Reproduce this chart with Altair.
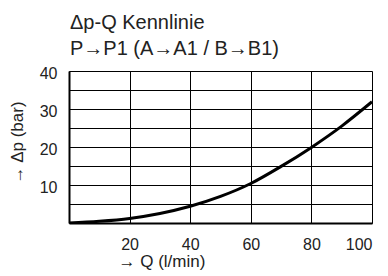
import altair as alt
import pandas as pd

q_values = [0, 10, 20, 30, 40, 50, 60, 70, 80, 90, 100]
dp_values = [0, 0.45, 1.2, 2.5, 4.4, 7.0, 10.4, 14.9, 19.9, 25.5, 31.9]

x_ticks = [0, 20, 40, 60, 80, 100]
y_ticks = [0, 5, 10, 15, 20, 25, 30, 35, 40]

title_text = "Δp-Q Kennlinie"
subtitle_text = "P→P1 (A→A1 / B→B1)"
x_title = "→ Q (l/min)"
y_title = "→ Δp (bar)"

df = pd.DataFrame({"Q": q_values, "dp": dp_values})

FONT = "Liberation Sans"
TXT = "#222222"

chart = (
    alt.Chart(df)
    .mark_line(color="black", strokeWidth=3, interpolate="monotone", clip=True)
    .encode(
        x=alt.X(
            "Q:Q",
            scale=alt.Scale(domain=[0, 100], nice=False),
            axis=alt.Axis(
                values=x_ticks,
                labelExpr="datum.value == 0 ? '' : datum.label",
                title=x_title,
                titleAlign="left",
                titleX=49,
                titleY=43,
                titleBaseline="alphabetic",
                titleFontWeight="normal",
                titleFontSize=17,
                titleFont=FONT,
                titleColor=TXT,
                labelFont=FONT,
                labelFontSize=16,
                labelColor=TXT,
                labelPadding=13,
                ticks=False,
                grid=True,
                gridColor="black",
                gridWidth=1,
                gridOpacity=1,
                domainColor="black",
                domainWidth=2,
            ),
        ),
        y=alt.Y(
            "dp:Q",
            scale=alt.Scale(domain=[0, 40], nice=False),
            axis=alt.Axis(
                values=y_ticks,
                labelExpr="(datum.value % 10 == 0 && datum.value > 0) ? datum.label : ''",
                labelOffset=2,
                title=y_title,
                titleAngle=-90,
                titleAlign="center",
                titleBaseline="middle",
                titleX=-52,
                titleY=71,
                titleFontWeight="normal",
                titleFontSize=17,
                titleFont=FONT,
                titleColor=TXT,
                labelFont=FONT,
                labelFontSize=16,
                labelColor=TXT,
                labelPadding=12,
                ticks=False,
                grid=True,
                gridColor="black",
                gridWidth=1,
                gridOpacity=1,
                domainColor="black",
                domainWidth=2,
            ),
        ),
    )
    .properties(
        width=303,
        height=152,
        title=alt.TitleParams(
            text=title_text,
            subtitle=subtitle_text,
            anchor="start",
            frame="group",
            font=FONT,
            fontSize=20,
            fontWeight="normal",
            color=TXT,
            subtitleFont=FONT,
            subtitleFontSize=20,
            subtitleColor=TXT,
            subtitlePadding=6,
            offset=6,
            dx=1,
        ),
        autosize=alt.AutoSizeParams(type="none"),
        padding={"left": 61, "top": 63, "right": 8, "bottom": 50},
    )
    .configure_view(stroke="black", strokeWidth=1)
    .configure(background="white")
)

chart.save("out.html", embed_options={"renderer": "svg", "actions": False})
